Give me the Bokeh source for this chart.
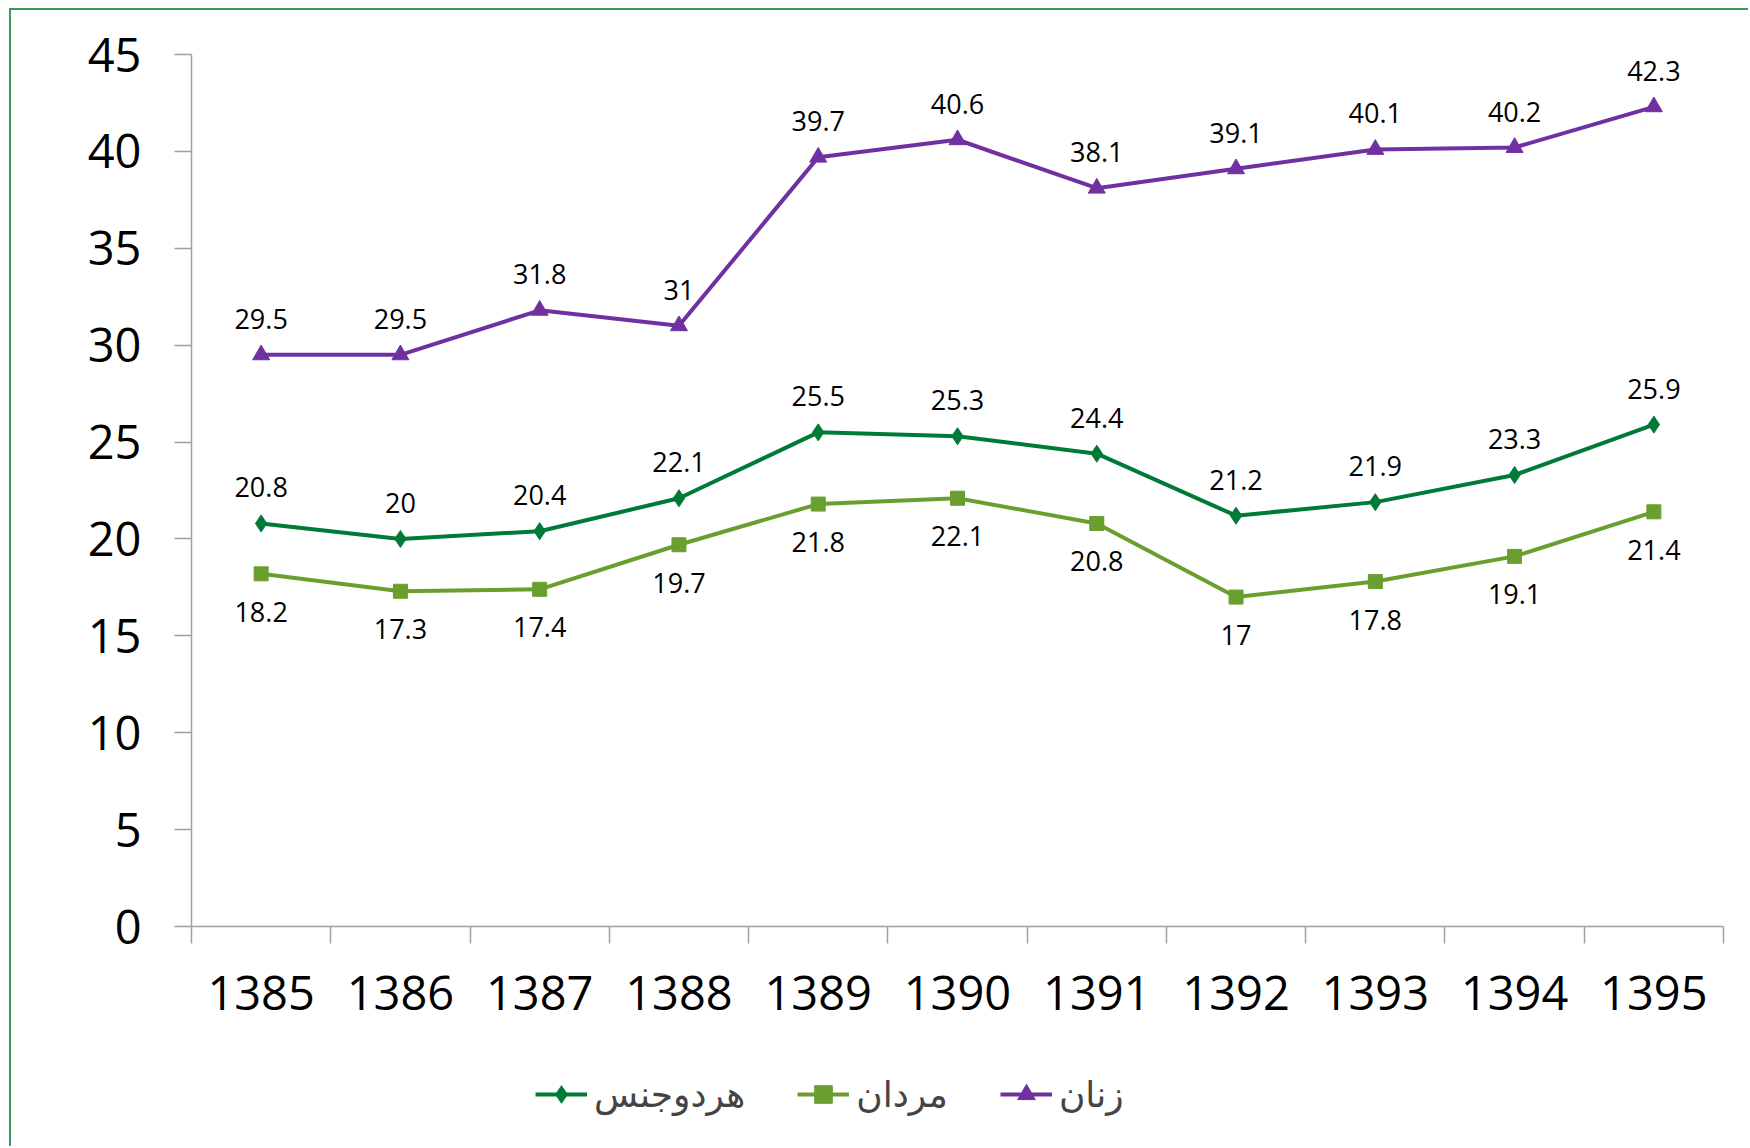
from bokeh.plotting import figure
from bokeh.layouts import column
from bokeh.models import FixedTicker, Legend, LegendItem, Range1d
from bokeh.embed import file_html
from bokeh.resources import INLINE
from bokeh.core.properties import value

years = ["1385", "1386", "1387", "1388", "1389", "1390", "1391", "1392", "1393", "1394", "1395"]
both = [20.8, 20, 20.4, 22.1, 25.5, 25.3, 24.4, 21.2, 21.9, 23.3, 25.9]
men = [18.2, 17.3, 17.4, 19.7, 21.8, 22.1, 20.8, 17, 17.8, 19.1, 21.4]
women = [29.5, 29.5, 31.8, 31, 39.7, 40.6, 38.1, 39.1, 40.1, 40.2, 42.3]
names = ["هردوجنس", "مردان", "زنان"]
y_ticks = [0, 5, 10, 15, 20, 25, 30, 35, 40, 45]

colors = ["#007A37", "#6A9E2F", "#7030A0"]
markers = ["diamond", "square", "triangle"]
msizes = [17, 14, 17]
label_offsets = [-36, 38, -36]

n = len(years)
xs = [i + 0.5 for i in range(n)]

W = 1737
p = figure(width=W, height=1050, x_range=Range1d(0, n), y_range=Range1d(0, 45),
           output_backend="svg", toolbar_location=None,
           min_border_left=180, min_border_right=25, min_border_top=44, min_border_bottom=134)
p.outline_line_color = None
p.xgrid.visible = False
p.ygrid.visible = False

axis_color = "#A0A0A0"
xa = p.xaxis[0]
xa.ticker = FixedTicker(ticks=xs, minor_ticks=list(range(n + 1)))
xa.major_label_overrides = {x: y for x, y in zip(xs, years)}
xa.major_tick_out = 0
xa.major_tick_in = 0
xa.minor_tick_out = 17
xa.minor_tick_in = 0
xa.minor_tick_line_color = axis_color
xa.minor_tick_line_width = 1.5
xa.axis_line_color = axis_color
xa.axis_line_width = 1.5
xa.major_label_text_font = "Open Sans"
xa.major_label_text_font_size = "47px"
xa.major_label_text_color = "#000000"
xa.major_label_standoff = 32

ya = p.yaxis[0]
ya.ticker = FixedTicker(ticks=y_ticks)
ya.major_tick_out = 17
ya.major_tick_in = 0
ya.minor_tick_line_color = None
ya.major_tick_line_color = axis_color
ya.major_tick_line_width = 1.5
ya.axis_line_color = axis_color
ya.axis_line_width = 1.5
ya.major_label_text_font = "Open Sans"
ya.major_label_text_font_size = "47px"
ya.major_label_text_color = "#000000"
ya.major_label_standoff = 33

# legend-only figure below the chart (its glyphs lie outside its ranges)
lf = figure(width=W, height=86, x_range=Range1d(0, n), y_range=Range1d(1000, 1001),
            output_backend="svg", toolbar_location=None,
            min_border_left=0, min_border_right=0, min_border_top=0, min_border_bottom=0)
lf.axis.visible = False
lf.grid.visible = False
lf.outline_line_color = None

items = []
for name, vals, c, m, ms, off in zip(names, [both, men, women], colors, markers, msizes, label_offsets):
    p.line(xs, vals, line_color=c, line_width=4)
    p.scatter(xs, vals, marker=m, size=ms, fill_color=c, line_color=c)
    p.text(xs, vals, text=[f"{v:g}" for v in vals], text_align="center", text_baseline="middle",
           y_offset=off, text_font=value("Open Sans"), text_font_size="27px", text_color="#000000")
    ln = lf.line(xs, vals, line_color=c, line_width=4)
    sc = lf.scatter(xs, vals, marker=m, size=ms, fill_color=c, line_color=c)
    items.append(LegendItem(label=name, renderers=[ln, sc]))

legend = Legend(items=items, orientation="horizontal", location=(344, 30),
                label_text_font="DejaVu Sans", label_text_font_size="36px",
                glyph_width=52, glyph_height=44, label_standoff=7, spacing=52,
                padding=0, margin=0, border_line_color=None, background_fill_alpha=0)
lf.add_layout(legend)

layout = column(p, lf, spacing=0)
layout.styles = {"border-left": "2px solid #3C9A5F", "border-top": "2px solid #3C9A5F",
                 "margin-left": "9px", "margin-top": "8px"}

open("out.html", "w").write(file_html(layout, INLINE))
